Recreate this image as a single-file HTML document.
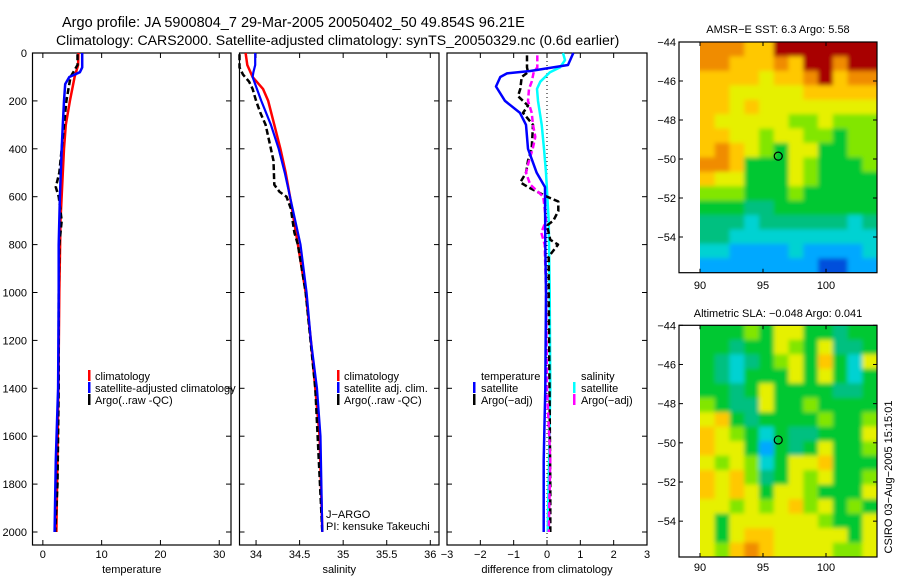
<!DOCTYPE html>
<html><head><meta charset="utf-8"><style>
body{margin:0;background:#fff;}
svg{display:block;font-family:"Liberation Sans",sans-serif;}
</style></head><body>
<svg id="fig" width="900" height="580" viewBox="0 0 900 580" xmlns="http://www.w3.org/2000/svg">
<defs>
<filter id="soft" x="-5%" y="-5%" width="110%" height="110%"><feGaussianBlur stdDeviation="2.2"/></filter>
<clipPath id="clipSst"><rect x="700" y="42" width="177" height="230.7"/></clipPath>
<clipPath id="clipSla"><rect x="700" y="325.3" width="177" height="231.7"/></clipPath>
</defs>
<rect width="900" height="580" fill="#fff"/>
<text x="62" y="27" font-size="14.5">Argo profile: JA 5900804_7 29-Mar-2005 20050402_50 49.854S 96.21E</text>
<text x="56" y="45" font-size="14.1">Climatology: CARS2000. Satellite-adjusted climatology: synTS_20050329.nc (0.6d earlier)</text>
<g id="g"></g>
</svg>
<script>
// ---- profile data (depth in m) ----
var tClimD=[0,50,100,200,300,400,500,700,1000,1400,2000];
var tClimV=[6.05,6.0,5.4,4.6,3.9,3.6,3.4,3.0,2.8,2.65,2.3];
var tSatD=[0,60,80,100,130,200,300,400,600,800,1000,1400,1700,2000];
var tSatV=[6.7,6.7,6.3,4.5,3.8,3.6,3.4,3.2,2.9,2.7,2.7,2.6,2.2,2.0];
var tArgD=[5,50,100,200,300,400,500,560,600,700,800,1000,1400,1800,2000];
var tArgV=[5.9,5.9,4.7,4.0,3.6,3.2,2.8,2.2,2.7,3.2,2.8,2.7,2.7,2.5,2.1];
var sClimD=[0,50,100,150,200,300,400,500,600,800,1000,1200,1400,1600,2000];
var sClimV=[33.88,33.9,33.96,34.08,34.14,34.21,34.28,34.34,34.39,34.48,34.57,34.63,34.68,34.73,34.76];
var sSatD=[0,50,80,100,150,200,300,400,500,600,800,1000,1200,1400,1600,2000];
var sSatV=[33.99,33.99,33.97,33.96,34.01,34.06,34.17,34.26,34.33,34.39,34.51,34.58,34.63,34.7,34.74,34.76];
var sArgD=[5,60,90,120,150,200,250,300,400,450,550,580,600,650,700,750,800,1000,1400,2000];
var sArgV=[33.81,33.81,33.85,33.92,33.96,34.0,34.05,34.11,34.17,34.2,34.21,34.27,34.35,34.4,34.42,34.44,34.48,34.57,34.68,34.76];
var dTSatD=[0,50,75,85,100,140,200,250,300,400,500,560,800,1000,1400,1700,2000];
var dTSatV=[0.79,0.63,-0.5,-1.2,-1.4,-1.53,-1.26,-0.81,-0.63,-0.57,-0.31,-0.06,-0.05,-0.03,-0.05,-0.1,-0.1];
var dSSatD=[0,30,60,80,120,150,200,300,400,500,700,1000,1400,2000];
var dSSatV=[0.48,0.54,0.39,0.09,-0.2,-0.3,-0.27,-0.16,-0.09,-0.03,0.05,0.08,0.1,0.02];
var dTArgD=[10,60,80,100,150,180,220,250,300,400,450,500,540,560,600,620,660,700,720,780,800,850,1000,1800,2000];
var dTArgV=[-0.6,-0.6,-0.57,-0.76,-0.8,-0.87,-0.57,-0.72,-0.42,-0.46,-0.57,-0.63,-0.8,-0.57,0,0.34,0.34,0.19,0,0.1,0.33,0.05,0.05,0.1,0.1];
var dSArgD=[10,60,80,120,150,200,250,300,350,400,450,500,550,600,700,750,800,1000,1400,1700,2000];
var dSArgV=[-0.29,-0.29,-0.4,-0.46,-0.54,-0.57,-0.46,-0.42,-0.35,-0.43,-0.54,-0.63,-0.5,-0.11,-0.03,-0.17,-0.07,-0.03,0,0.1,0.05];
var depthTicks=[0,200,400,600,800,1000,1200,1400,1600,1800,2000];
var tTicks=[0,10,20,30];
var sTicks=[34,34.5,35,35.5,36];
var dTicks=[-3,-2,-1,0,1,2,3];
// ---- map data (rows north->south, cols west->east, colour index 0..9) ----
var sstRows=["888779999999","887778799899","777767789788","776666677777","776766666666","766666556555","776656655455","787654664455","887444654445","766444654444","555444544444","444334444444","333233333323","332222222222","221111211112","111111110011"];
var slaRows=["444546644344","443446546334","432345647426","432444646424","443464444334","543364454444","674344445445","765424334446","766414346445","656524667444","767534656445","767646654446","665656756454","646666665446","646776666646","657876666556"];
var mapLonTicks=[90,95,100];
var mapLatTicks=[-44,-46,-48,-50,-52,-54];
var argoLon=96.21, argoLat=-49.854;

var NS="http://www.w3.org/2000/svg";
var G=document.getElementById('g');
function mk(tag,at,parent){var e=document.createElementNS(NS,tag);for(var k in at)e.setAttribute(k,at[k]);(parent||G).appendChild(e);return e;}
function txt(x,y,s,size,anchor,parent){var e=mk('text',{x:x,y:y,'font-size':size||11,'text-anchor':anchor||'start'},parent);e.textContent=s;return e;}

var Y0=53, PXM=479/2000, YB=545;
function yD(d){return Y0+d*PXM;}
var panels=[
 {name:'temperature',x0:32.5,x1:231,v0:-1.76,v1:32.0,ticks:tTicks,lab:'temperature'},
 {name:'salinity',x0:239.5,x1:439,v0:33.81,v1:36.1,ticks:sTicks,lab:'salinity'},
 {name:'difference',x0:447,x1:647,v0:-3,v1:3,ticks:dTicks,lab:'difference from climatology'}
];
function xf(p){return function(v){return p.x0+(v-p.v0)/(p.v1-p.v0)*(p.x1-p.x0);};}
panels.forEach(function(p,i){
  var g=mk('g',{});
  
  
  p.g=g;p.X=xf(p);
  var fr=mk('rect',{x:p.x0,y:Y0,width:p.x1-p.x0,height:YB-Y0,fill:'none',stroke:'#000','stroke-width':1.2},g);
  
  
  p.ticks.forEach(function(t){
    var x=p.X(t);
    mk('line',{x1:x,x2:x,y1:YB,y2:YB-5,stroke:'#000'},g);
    mk('line',{x1:x,x2:x,y1:Y0,y2:Y0+5,stroke:'#000'},g);
    var tl=txt(x,558,String(t).replace('-','\u2212'),11,'middle',g);
    
    
  });
  depthTicks.forEach(function(d){
    var y=yD(d);
    mk('line',{x1:p.x0,x2:p.x0+5,y1:y,y2:y,stroke:'#000'},g);
    mk('line',{x1:p.x1,x2:p.x1-5,y1:y,y2:y,stroke:'#000'},g);
    if(i==0){var yl=txt(27,y+4,String(d),11,'end',g);
      
      }
  });
  var at=txt((p.x0+p.x1)/2,573,p.lab,11,'middle',g);
  
  
});
function series(p,D,V,color,dash,w,name){
  var pts=D.map(function(d,k){return p.X(V[k]).toFixed(1)+','+yD(d).toFixed(1);}).join(' ');
  var pl=mk('polyline',{points:pts,fill:'none',stroke:color,'stroke-width':w||2.5,'stroke-dasharray':dash||'none','stroke-linejoin':'round'},p.g);
  
  
}
var z=panels[2].X(0);
var zl=mk('line',{x1:z,x2:z,y1:Y0,y2:YB,stroke:'#000','stroke-dasharray':'1,3'},panels[2].g);


series(panels[0],tClimD,tClimV,'#f00',null,2.5,'temperature-climatology-line');
series(panels[0],tArgD,tArgV,'#000','6,3',2.5,'temperature-argo-line');
series(panels[0],tSatD,tSatV,'#00f',null,2.5,'temperature-satellite-line');
series(panels[1],sClimD,sClimV,'#f00',null,2.5,'salinity-climatology-line');
series(panels[1],sArgD,sArgV,'#000','6,3',2.5,'salinity-argo-line');
series(panels[1],sSatD,sSatV,'#00f',null,2.2,'salinity-satellite-line');
series(panels[2],dSSatD,dSSatV,'#0ff',null,2.5,'salinity-diff-satellite-line');
series(panels[2],dTArgD,dTArgV,'#000','6,3',2.5,'temperature-diff-argo-line');
series(panels[2],dSArgD,dSArgV,'#f0f','6,3',2.5,'salinity-diff-argo-line');
series(panels[2],dTSatD,dTSatV,'#00f',null,2.5,'temperature-diff-satellite-line');

function legend(items,bx,tx,y0,name){
  var lg=mk('g',{});
  
  
  items.forEach(function(it,k){
    var y=y0+k*12;
    if(it[1])mk('rect',{x:bx,y:y-10,width:2.5,height:11,fill:it[1]},lg);
    txt(tx,y,it[0],11,'start',lg);
  });
}
legend([['climatology','#f00'],['satellite-adjusted climatology','#00f'],['Argo(..raw -QC)','#000']],88,95,380,'temperature-legend');
legend([['climatology','#f00'],['satellite adj. clim.','#00f'],['Argo(..raw -QC)','#000']],337,344,380,'salinity-legend');
legend([['temperature',null],['satellite','#00f'],['Argo(\u2212adj)','#000']],473,481,380,'temperature-diff-legend');
legend([['salinity',null],['satellite','#0ff'],['Argo(\u2212adj)','#f0f']],573,581,380,'salinity-diff-legend');
var j1=txt(326,518,'J\u2212ARGO',11);


var j2=txt(326,530,'PI: kensuke Takeuchi',11);



// ---- maps ----
var cmap=['#0050dc','#00a8ff','#00d2d2','#00c080','#00c832','#82e600','#e6f000','#ffc800','#f08c00','#a80000'];
var maps=[
 {name:'sst-map',rows:sstRows,top:42,bot:272.7,title:'AMSR\u2212E SST: 6.3 Argo: 5.58',ty:33,ly:289,clip:'url(#clipSst)'},
 {name:'sla-map',rows:slaRows,top:325.3,bot:557,title:'Altimetric SLA: \u22120.048 Argo: 0.041',ty:317,ly:571,clip:'url(#clipSla)'}
];
var L0=679,L1=877,lonA=90,lonPx=12.6;
maps.forEach(function(m){
  var g=mk('g',{});
  
  
  var pxLat=(m.bot-m.top)/11.83;
  function MX(lon){return 700+(lon-lonA)*lonPx;}
  function MY(lat){return m.top+(-44-lat)*pxLat;}
  var nr=m.rows.length,nc=m.rows[0].length;
  var cw=(L1-700)/nc,ch=(m.bot-m.top)/nr;
  var cg=mk('g',{'clip-path':m.clip},g);
  var fg=mk('g',{filter:'url(#soft)'},cg);
  m.rows.forEach(function(r,ri){
    for(var ci=0;ci<nc;ci++){
      var v=+r[ci];
      var x=700+ci*cw, y=m.top+ri*ch, w=cw+0.6, h=ch+0.6;
      if(ci==0){x-=6;w+=6;} if(ci==nc-1){w+=6;}
      if(ri==0){y-=6;h+=6;} if(ri==nr-1){h+=6;}
      var c=mk('rect',{x:x.toFixed(2),y:y.toFixed(2),width:w.toFixed(2),height:h.toFixed(2),fill:cmap[v]},fg);
      
      
    }
  });
  mk('rect',{x:L0,y:m.top,width:L1-L0,height:m.bot-m.top,fill:'none',stroke:'#000','stroke-width':1.2},g);
  mapLonTicks.forEach(function(t){var x=MX(t);
    mk('line',{x1:x,x2:x,y1:m.bot,y2:m.bot-4,stroke:'#000'},g);
    mk('line',{x1:x,x2:x,y1:m.top,y2:m.top+4,stroke:'#000'},g);
    var l=txt(x,m.ly,String(t),11,'middle',g);
    
    });
  mapLatTicks.forEach(function(t){var y=MY(t);
    mk('line',{x1:L0,x2:L0+4,y1:y,y2:y,stroke:'#000'},g);
    mk('line',{x1:L1,x2:L1-4,y1:y,y2:y,stroke:'#000'},g);
    var l=txt(676,y+4,String(t).replace('-','\u2212'),11,'end',g);
    
    });
  var ci2=mk('circle',{cx:MX(argoLon),cy:MY(argoLat),r:4,fill:'none',stroke:'#000','stroke-width':1.2},g);
  
  
  var tt=txt(778,m.ty,m.title,11,'middle',g);
  
  
});
var cs=txt(0,0,'CSIRO 03\u2212Aug\u22122005 15:15:01',11,'middle');
cs.setAttribute('transform','translate(892,477) rotate(-90)');


</script>
</body></html>
